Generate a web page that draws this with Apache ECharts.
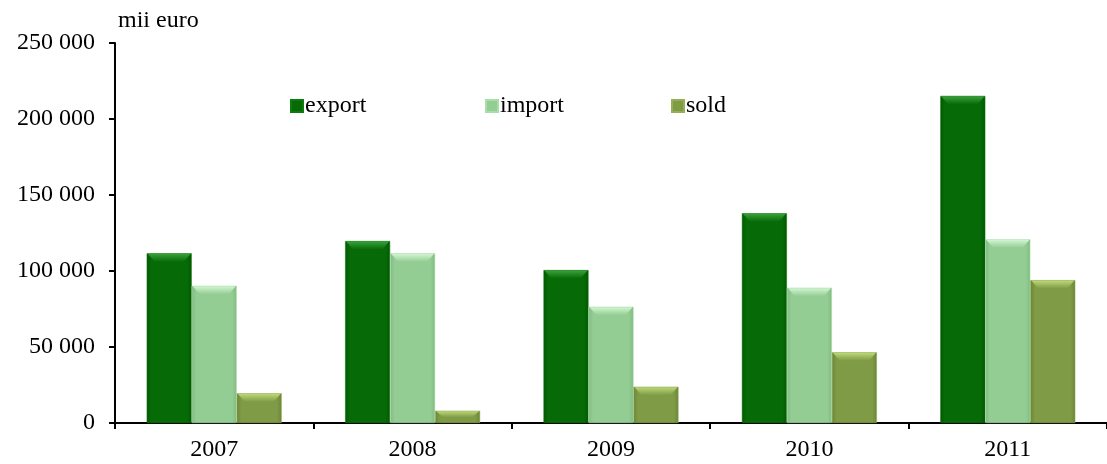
<!DOCTYPE html>
<html><head><meta charset="utf-8">
<script src="https://cdn.jsdelivr.net/npm/echarts@6/dist/echarts.min.js"></script>
<style>html,body{margin:0;padding:0;background:#fff}#c{width:1107px;height:464px}</style>
</head><body><div id="c"></div>
<script>
const categories = ['2007','2008','2009','2010','2011'];
const exportVals = [111600, 119700, 100600, 138000, 215200];
const importVals = [90300, 111600, 76500, 89000, 120800];
const soldVals = [19500, 8100, 23900, 46500, 94000];
const yTicks = [0, 50000, 100000, 150000, 200000, 250000];

const font = 'Liberation Serif';
const colors = ['#066b06', '#93cd93', '#7f9b45'];
const edgeColors = ['#045604', '#82bb82', '#6a8438'];
const topColors = ['#3aa03a', '#d2f5d2', '#bcd878'];
const allVals = [exportVals, importVals, soldVals];
const BW = 45;
function barColor(mid, edge) {
  return {
    type: 'linear', x: 0, y: 0, x2: 1, y2: 0,
    colorStops: [
      {offset: 0, color: edge},
      {offset: 0.1, color: mid},
      {offset: 0.9, color: mid},
      {offset: 1, color: edge}
    ]
  };
}
function bevel(params, api) {
  const ci = api.value(0);
  const children = [];
  for (let s = 0; s < 3; s++) {
    const v = allVals[s][ci];
    const top = api.coord([ci, v]);
    const base = api.coord([ci, 0]);
    const cx = top[0] + (s - 1) * BW;
    const x0 = cx - BW / 2 + 1, x1 = cx + BW / 2 - 1;
    const h = Math.min(8, (base[1] - top[1]) / 2);
    const y0 = top[1] + 0.5;
    children.push({
      type: 'polygon', silent: true,
      shape: {points: [[x0, y0], [x1, y0], [x1 - 7, y0 + h], [x0 + 7, y0 + h]]},
      style: {fill: {type: 'linear', x: 0, y: 0, x2: 0, y2: 1,
        colorStops: [{offset: 0, color: topColors[s]}, {offset: 1, color: colors[s]}]}}
    });
  }
  return {type: 'group', children};
}
const chart = echarts.init(document.getElementById('c'));
const legendBase = {top: 94, itemWidth: 12, itemHeight: 12, itemGap: 0, padding: 0,
  textStyle: {fontFamily: font, fontSize: 24, color: '#000', padding: [0,0,0,-3]}, icon: 'rect'};
chart.setOption({
  animation: false,
  textStyle: {fontFamily: font},
  grid: {left: 115, right: -11, top: 43, bottom: 41},
  legend: [
    Object.assign({}, legendBase, {left: 290, data: [{name: 'export', itemStyle: {color: colors[0]}}]}),
    Object.assign({}, legendBase, {left: 485, data: [{name: 'import', itemStyle: {color: colors[1]}}]}),
    Object.assign({}, legendBase, {left: 671, data: [{name: 'sold', itemStyle: {color: colors[2]}}]})
  ],
  graphic: [{type: 'text', left: 118, top: 9, style: {text: 'mii euro', fontFamily: font, fontSize: 24, fill: '#000'}}],
  xAxis: {
    type: 'category', data: categories,
    axisLine: {lineStyle: {color: '#000', width: 2}},
    axisTick: {show: true, length: 6, lineStyle: {color: '#000', width: 2}},
    axisLabel: {fontFamily: font, fontSize: 24, color: '#000', margin: 15}
  },
  yAxis: {
    type: 'value', min: 0, max: 250000, interval: 50000,
    splitLine: {show: false},
    axisLine: {show: true, lineStyle: {color: '#000', width: 2}},
    axisTick: {show: true, length: 6, lineStyle: {color: '#000', width: 2}},
    axisLabel: {fontFamily: font, fontSize: 24, color: '#000', margin: 20,
      formatter: v => yTicks.includes(v) ? (v === 0 ? '0' : String(v/1000) + ' 000') : ''}
  },
  series: [
    {name: 'export', type: 'bar', data: exportVals, barWidth: BW, barGap: '0%',
      itemStyle: {color: barColor(colors[0], edgeColors[0]), borderColor: '#0b7d0b', borderWidth: 0.5}},
    {name: 'import', type: 'bar', data: importVals, barWidth: BW,
      itemStyle: {color: barColor(colors[1], edgeColors[1]), borderColor: '#a8dea8', borderWidth: 0.5}},
    {name: 'sold', type: 'bar', data: soldVals, barWidth: BW,
      itemStyle: {color: barColor(colors[2], edgeColors[2]), borderColor: '#94b055', borderWidth: 0.5}},
    {name: 'bevel', type: 'custom', silent: true, z: 3,
      data: categories.map((c, i) => [i]), renderItem: bevel, encode: {x: 0}}
  ]
});
</script></body></html>
